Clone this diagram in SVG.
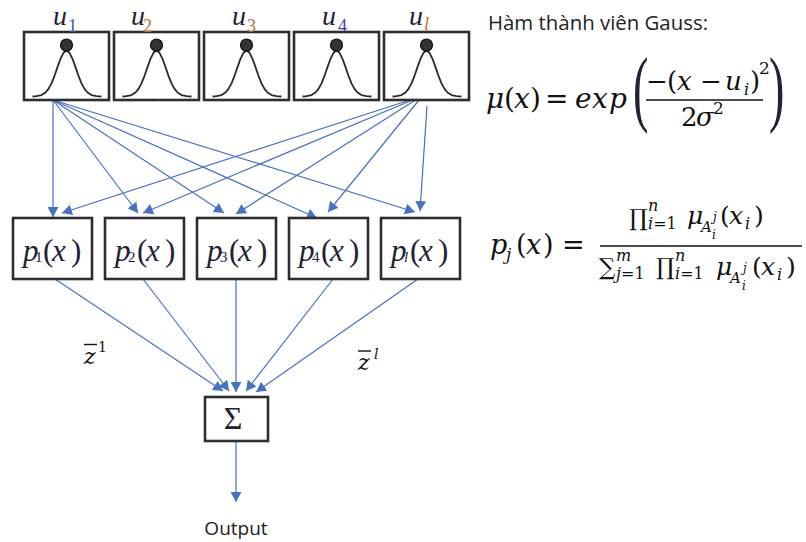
<svg xmlns="http://www.w3.org/2000/svg" width="806" height="542" viewBox="0 0 806 542">
<style>
.box{fill:#fff;stroke:#2e2e2e;stroke-width:2.6}
.bell{fill:none;stroke:#2a2a2a;stroke-width:1.8;stroke-linejoin:round}
.dot{fill:#333;stroke:#111;stroke-width:1.2}
.con{stroke:#4472C4;stroke-width:1.2;fill:none;marker-end:url(#ah)}
.ser{font-family:"Liberation Serif","Times New Roman",serif;fill:#222236}
.it{font-style:italic}
.math{font-family:"DejaVu Serif","Liberation Serif",serif;fill:#111}
.sans{font-family:"Open Sans","Noto Sans","Liberation Sans",sans-serif;fill:#222}
.rule{stroke:#111;stroke-width:1.4}
.tick{fill:#222}
</style>
<defs>
<marker id="ah" viewBox="0 0 10 11" refX="10" refY="5.5" markerWidth="10" markerHeight="11" markerUnits="userSpaceOnUse" orient="auto"><path d="M0,0 L10,5.5 L0,11 z" fill="#4472C4"/></marker>
<path id="bell" d="M-34,0 L-30,-0.3 L-25,-1.4 L-21,-4 L-18,-7.6 L-15,-13.2 L-12,-20.7 L-9,-29.4 L-6,-37.7 L-3,-43.7 L0,-46 L3,-43.7 L6,-37.7 L9,-29.4 L12,-20.7 L15,-13.2 L18,-7.6 L21,-4 L25,-1.4 L30,-0.3 L35,0"/>
</defs>
<rect width="806" height="542" fill="#fff"/>

<g id="connectors">
<line class="con" x1="53" y1="100" x2="53" y2="217"/>
<line class="con" x1="53" y1="100" x2="138" y2="213"/>
<line class="con" x1="53" y1="100" x2="224" y2="213"/>
<line class="con" x1="53" y1="100" x2="317" y2="218"/>
<line class="con" x1="53" y1="100" x2="415" y2="212"/>
<line class="con" x1="413" y1="99" x2="62" y2="213"/>
<line class="con" x1="415" y1="99" x2="143" y2="213"/>
<line class="con" x1="417" y1="99" x2="236" y2="214"/>
<line class="con" x1="419" y1="100" x2="328" y2="212"/>
<line class="con" x1="427" y1="106" x2="420" y2="211"/>
<line class="con" x1="55" y1="279" x2="223" y2="391"/>
<line class="con" x1="143" y1="279" x2="229" y2="391"/>
<line class="con" x1="236" y1="279" x2="236" y2="392"/>
<line class="con" x1="333" y1="279" x2="246" y2="391"/>
<line class="con" x1="418" y1="279" x2="256" y2="392"/>
<line class="con" x1="236" y1="441" x2="236" y2="502"/>
</g>

<g id="u1">
<rect class="box" x="24" y="32" width="85" height="68"/>
<use href="#bell" class="bell" transform="translate(66.5,96.5)"/>
<circle class="dot" cx="66.5" cy="45" r="6"/>
<text class="ser" y="25" font-size="28"><tspan class="it" x="53">u</tspan><tspan x="68" y="32" font-size="18" fill="#2f5fb8">1</tspan></text>
</g>
<g id="u2">
<rect class="box" x="114" y="32" width="85" height="68"/>
<use href="#bell" class="bell" transform="translate(156.5,96.5)"/>
<circle class="dot" cx="156.5" cy="45" r="6"/>
<rect class="tick" x="152" y="99" width="2" height="2"/>
<text class="ser" y="25" font-size="28"><tspan class="it" x="131">u</tspan><tspan x="143" y="32" font-size="18" fill="#b8702e">2</tspan></text>
</g>
<g id="u3">
<rect class="box" x="204" y="32" width="85" height="68"/>
<use href="#bell" class="bell" transform="translate(246.5,96.5)"/>
<circle class="dot" cx="246.5" cy="45" r="6"/>
<rect class="tick" x="241" y="99" width="2" height="2"/>
<text class="ser" y="25" font-size="28"><tspan class="it" x="232">u</tspan><tspan x="247" y="32" font-size="18" fill="#b8702e">3</tspan></text>
</g>
<g id="u4">
<rect class="box" x="294" y="32" width="85" height="68"/>
<use href="#bell" class="bell" transform="translate(336.5,96.5)"/>
<circle class="dot" cx="336.5" cy="45" r="6"/>
<rect class="tick" x="329" y="99" width="2" height="2"/>
<text class="ser" y="25" font-size="28"><tspan class="it" x="322">u</tspan><tspan x="338" y="32" font-size="18" fill="#3a3ab0">4</tspan></text>
</g>
<g id="ul">
<rect class="box" x="384" y="32" width="85" height="68"/>
<use href="#bell" class="bell" transform="translate(426.5,96.5)"/>
<circle class="dot" cx="426.5" cy="45" r="6"/>
<text class="ser" y="25" font-size="28"><tspan class="it" x="409">u</tspan><tspan class="it" x="424" y="30" font-size="18" fill="#b8702e">l</tspan></text>
</g>

<g id="p1">
<rect class="box" x="13" y="218" width="79" height="61"/>
<text class="ser" y="261" font-size="31"><tspan class="it" x="23">p</tspan><tspan x="35" y="262" font-size="15">1</tspan><tspan x="43" y="261">(</tspan><tspan class="it" x="52">x</tspan><tspan x="71">)</tspan></text>
</g>
<g id="p2">
<rect class="box" x="105" y="218" width="79" height="61"/>
<text class="ser" y="261" font-size="31"><tspan class="it" x="115">p</tspan><tspan x="128" y="262" font-size="15">2</tspan><tspan x="137" y="261">(</tspan><tspan class="it" x="146">x</tspan><tspan x="165">)</tspan></text>
</g>
<g id="p3">
<rect class="box" x="197" y="218" width="79" height="61"/>
<text class="ser" y="261" font-size="31"><tspan class="it" x="207">p</tspan><tspan x="220" y="262" font-size="15">3</tspan><tspan x="229" y="261">(</tspan><tspan class="it" x="238">x</tspan><tspan x="257">)</tspan></text>
</g>
<g id="p4">
<rect class="box" x="289" y="218" width="79" height="61"/>
<text class="ser" y="261" font-size="31"><tspan class="it" x="299">p</tspan><tspan x="312" y="262" font-size="15">4</tspan><tspan x="321" y="261">(</tspan><tspan class="it" x="330">x</tspan><tspan x="349">)</tspan></text>
</g>
<g id="pl">
<rect class="box" x="381" y="218" width="79" height="61"/>
<text class="ser" y="261" font-size="31"><tspan class="it" x="391">p</tspan><tspan class="it" x="404" y="262" font-size="15">l</tspan><tspan x="410" y="261">(</tspan><tspan class="it" x="419">x</tspan><tspan x="438">)</tspan></text>
</g>

<g id="sum">
<rect class="box" x="205" y="397" width="63" height="44"/>
<text class="ser" x="233" y="429" font-size="32" text-anchor="middle">Σ</text>
</g>

<g id="output">
<text class="sans" x="236" y="535" font-size="19" text-anchor="middle">Output</text>
</g>

<g id="weights">
<text class="math it" x="84" y="364" font-size="22">z</text>
<line class="rule" x1="84" y1="344.5" x2="97" y2="344.5"/>
<text class="math" x="98" y="352" font-size="14">1</text>
<text class="math it" x="358" y="370" font-size="22">z</text>
<line class="rule" x1="358" y1="351" x2="371" y2="351"/>
<text class="math it" x="374" y="359" font-size="14">l</text>
</g>

<g id="gauss-formula">
<text class="sans" x="488" y="30" font-size="20" textLength="220" lengthAdjust="spacingAndGlyphs">Hàm thành viên Gauss:</text>
<text class="math" y="108" font-size="28"><tspan class="it" x="486">μ</tspan><tspan x="504">(</tspan><tspan class="it" x="514">x</tspan><tspan x="530">)</tspan><tspan x="545">=</tspan><tspan class="it" x="575">e</tspan><tspan class="it" x="592">x</tspan><tspan class="it" x="609">p</tspan></text>
<text class="ser" font-size="84" transform="translate(633,116) scale(0.55,1)" fill="#111">(</text>
<text class="math" y="90" font-size="26"><tspan x="646">−</tspan><tspan x="667">(</tspan><tspan class="it" x="677">x</tspan><tspan x="700">−</tspan><tspan class="it" x="725">u</tspan><tspan class="it" x="744" y="95" font-size="16">i</tspan><tspan x="750" y="90">)</tspan><tspan x="759" y="74" font-size="17">2</tspan></text>
<line class="rule" x1="646" y1="100" x2="763" y2="100"/>
<text class="math" y="126" font-size="26"><tspan x="681">2</tspan><tspan class="it" x="696">σ</tspan><tspan x="713" y="114" font-size="17">2</tspan></text>
<text class="ser" font-size="84" transform="translate(769,116) scale(0.55,1)" fill="#111">)</text>
</g>

<g id="p-formula">
<text class="math" y="254" font-size="27"><tspan class="it" x="490">p</tspan><tspan class="it" x="506" y="260" font-size="17">j</tspan><tspan x="516" y="254">(</tspan><tspan class="it" x="526">x</tspan><tspan x="543">)</tspan><tspan x="562">=</tspan></text>
<line class="rule" x1="600" y1="246" x2="802" y2="246"/>
<text class="math" y="226" font-size="25"><tspan x="629" font-size="23">∏</tspan><tspan class="it" x="648" y="211" font-size="16">n</tspan><tspan class="it" x="648" y="229" font-size="16">i</tspan><tspan font-size="16">=1</tspan><tspan class="it" x="687" y="224">μ</tspan><tspan class="it" x="701" y="232" font-size="15">A</tspan><tspan class="it" x="713" y="221" font-size="12">j</tspan><tspan class="it" x="712" y="239" font-size="12">i</tspan><tspan x="720" y="224">(</tspan><tspan class="it" x="729">x</tspan><tspan class="it" x="745" y="229" font-size="16">i</tspan><tspan x="754" y="224">)</tspan></text>
<text class="math" y="275" font-size="25"><tspan x="599" font-size="23">∑</tspan><tspan class="it" x="616" y="261" font-size="16">m</tspan><tspan class="it" x="616" y="279" font-size="16">j</tspan><tspan font-size="16">=1</tspan><tspan x="656" y="275" font-size="23">∏</tspan><tspan class="it" x="675" y="261" font-size="16">n</tspan><tspan class="it" x="675" y="279" font-size="16">i</tspan><tspan font-size="16">=1</tspan><tspan class="it" x="716" y="275">μ</tspan><tspan class="it" x="730" y="283" font-size="15">A</tspan><tspan class="it" x="743" y="272" font-size="12">j</tspan><tspan class="it" x="742" y="290" font-size="12">i</tspan><tspan x="752" y="275">(</tspan><tspan class="it" x="761">x</tspan><tspan class="it" x="777" y="280" font-size="16">i</tspan><tspan x="786" y="275">)</tspan></text>
</g>
</svg>
